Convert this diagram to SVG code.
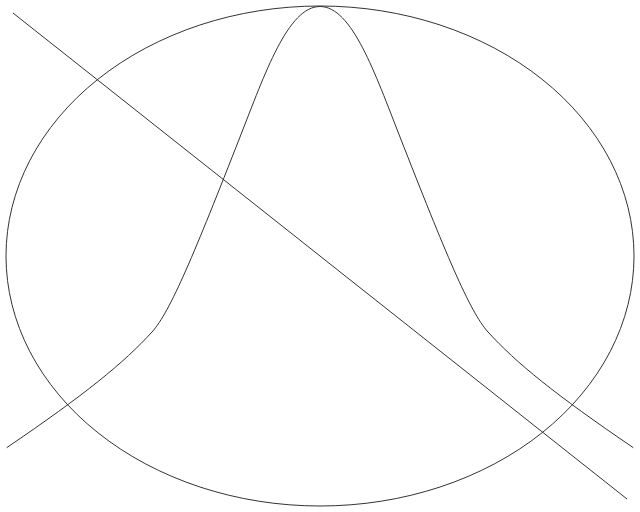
<svg xmlns="http://www.w3.org/2000/svg" width="640" height="512" viewBox="0 0 640 512">
<style>
.s{fill:none;stroke:#333;stroke-width:1}
</style>
<rect width="640" height="512" fill="#fff"/>
<g id="ellipse"><ellipse class="s" cx="320" cy="256" rx="314" ry="250"/></g>
<g id="bell"><path class="s" d="M6.7,447.7 C85.5,394.1 123.9,362.8 152,332 C170.3,311.9 194.9,252.1 240,137 C265,73.25 288,6.5 320,6.5 C352,6.5 375,73.25 400,137 C445.1,252.1 469.7,311.9 488,332 C516.1,362.8 554.5,394.1 633.3,447.7"/></g>
<g id="connectors"><line class="s" x1="13" y1="13" x2="627" y2="499"/></g>
</svg>
